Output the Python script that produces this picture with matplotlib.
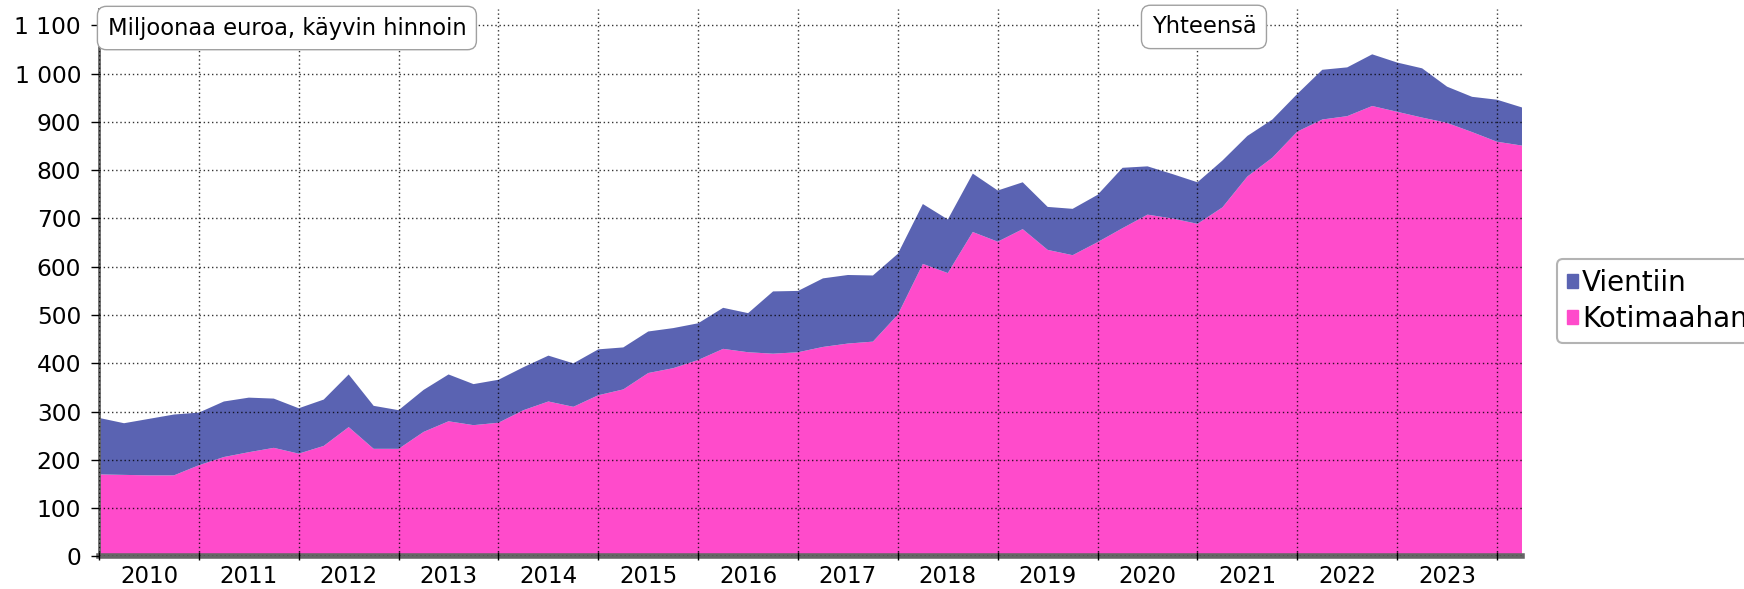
import matplotlib.pyplot as plt
import numpy as np
from matplotlib.patches import Patch

plt.rcParams['font.family'] = ['DejaVu Sans']

# neljännesvuodet 2010Q1 - 2024Q2
vuodet = list(range(2010, 2024))
kotimaahan = [170, 169, 168, 168, 189, 206, 216, 225, 213, 229, 268, 223,
              223, 258, 280, 272, 277, 303, 321, 310, 334, 346, 380, 390,
              407, 430, 423, 420, 423, 434, 441, 445, 501, 606, 587, 672,
              652, 678, 635, 624, 651, 680, 708, 700, 689, 723, 787, 826,
              880, 905, 912, 933, 921, 909, 898, 879, 859, 851]
yhteensa = [287, 276, 285, 294, 298, 321, 329, 327, 307, 325, 377, 312,
            303, 345, 377, 357, 366, 392, 416, 400, 429, 433, 466, 473,
            483, 515, 504, 549, 550, 576, 583, 582, 627, 730, 698, 793,
            758, 775, 724, 720, 749, 805, 808, 792, 775, 820, 871, 905,
            958, 1008, 1013, 1040, 1023, 1011, 973, 952, 946, 930]
vientiin = [t - k for t, k in zip(yhteensa, kotimaahan)]

vari_vienti = "#5A63B2"
vari_koti = "#FF4BCB"

x = np.arange(len(kotimaahan))

fig = plt.figure(figsize=(17.44, 5.89), dpi=100)
ax = fig.add_axes([0.0568, 0.0552, 0.8159, 0.9288])

ax.stackplot(x, kotimaahan, vientiin, colors=[vari_koti, vari_vienti], lw=0, zorder=1)

ax.set_xlim(0, len(x) - 1)
ax.set_ylim(0, 1133)

# vuosien rajat ja nimet keskelle
ax.set_xticks(np.arange(0, len(x), 4))
ax.set_xticklabels([])
ax.set_xticks(np.arange(0, len(vuodet)) * 4 + 2, minor=True)
ax.set_xticklabels([str(v) for v in vuodet], minor=True, fontsize=16.5)
ax.tick_params(axis='x', which='minor', length=0, pad=6)
ax.tick_params(axis='x', which='major', length=6, width=1, color='black', direction='inout')

yt = np.arange(0, 1101, 100)
ax.set_yticks(yt)
ax.set_yticklabels([f"{v:,}".replace(",", " ") for v in yt], fontsize=16.8)
ax.tick_params(axis='y', length=6, width=1, pad=7)

ax.grid(True, which='major', color='black', alpha=0.8, linestyle=(0, (1, 2)), lw=1.0, zorder=2)
ax.set_axisbelow(False)

for s in ['top', 'right']:
    ax.spines[s].set_visible(False)
ax.spines['left'].set_color('#666666')
ax.spines['left'].set_linewidth(2)
ax.spines['bottom'].set_color('#666666')
ax.spines['bottom'].set_linewidth(4)

laatikko = dict(boxstyle='round,pad=0.45,rounding_size=0.4', fc='white', ec='#a0a0a0', lw=1)
ax.text(0.006, 0.966, "Miljoonaa euroa, käyvin hinnoin", transform=ax.transAxes,
        ha='left', va='center', fontsize=16.3, bbox=laatikko, zorder=5)
ax.text(0.7765, 0.968, "Yhteensä", transform=ax.transAxes,
        ha='center', va='center', fontsize=16.3, bbox=laatikko, zorder=5)

kahvat = [Patch(color=vari_vienti, label="Vientiin"), Patch(color=vari_koti, label="Kotimaahan")]
leg = fig.legend(handles=kahvat, loc='upper left', bbox_to_anchor=(1557 / 1744, 1 - 259 / 589),
                 fontsize=20, handlelength=0.4, handleheight=0.4, handletextpad=0.15,
                 labelspacing=0.3, borderpad=0.35, borderaxespad=0, frameon=True, fancybox=True)
leg.get_frame().set_edgecolor('#a0a0a0')
leg.get_frame().set_linewidth(1.5)

fig.savefig("out.png", dpi=100)
